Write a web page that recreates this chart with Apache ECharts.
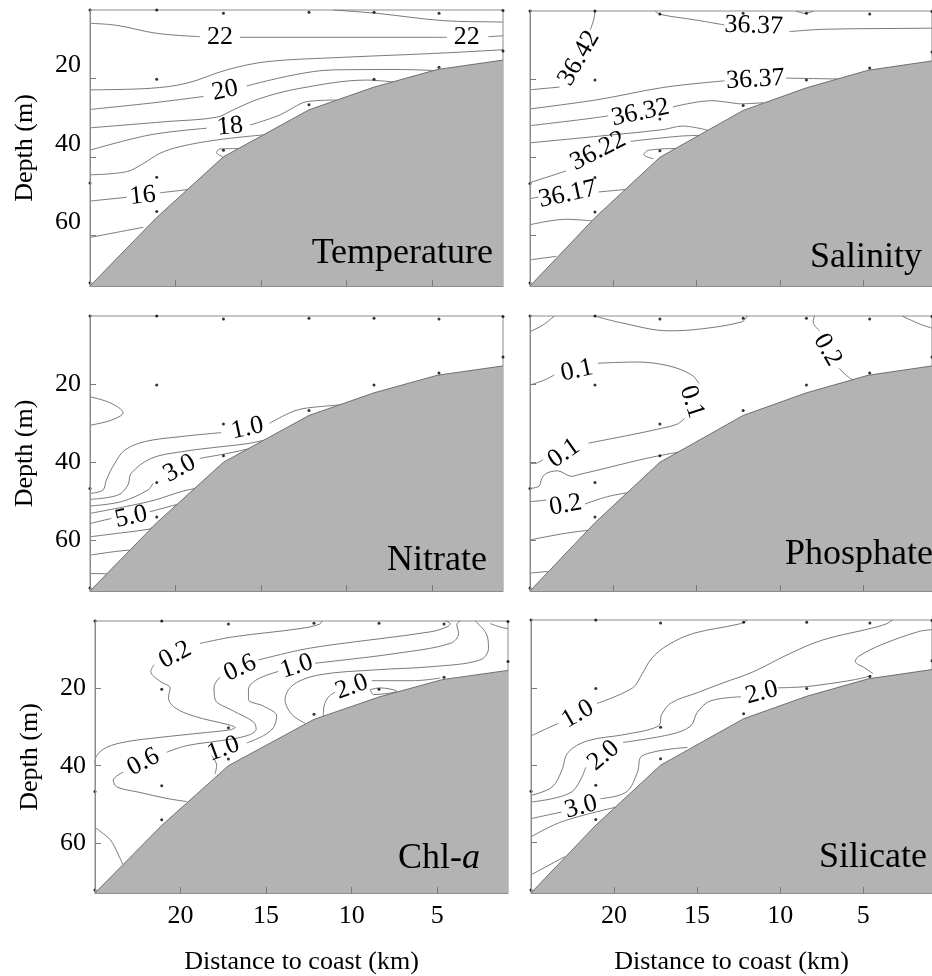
<!DOCTYPE html>
<html>
<head>
<meta charset="utf-8">
<script src="https://cdn.jsdelivr.net/npm/echarts@6/dist/echarts.min.js"></script>
<style>
  html, body { margin: 0; padding: 0; background: #fff; }
  #chart { width: 932px; height: 976px; }
</style>
</head>
<body>
<div id="chart"></div>
<script>
// distance to coast (km), depth (m)
const bottomProfile = [[25, 73], [21.1, 55.5], [17.2, 40], [12.2, 28], [8.4, 22.2], [4.7, 17.7], [0.86, 15.3]];
const stations = [
  [25, 2.5], [25, 46.7], [25, 72.2],
  [21.1, 2.5], [21.1, 20.2], [21.1, 45.2], [21.1, 54],
  [17.2, 3.3], [17.2, 30.2], [17.2, 38.3],
  [12.2, 3.1], [12.2, 26.7],
  [8.4, 3.1], [8.4, 20.2],
  [4.6, 3.3], [4.6, 17.1],
  [0.86, 2.6], [0.86, 13]
];
const depthTicks = [20, 40, 60];
const distTicks = [20, 15, 10, 5];

// contour lines, null = gap left for the label
const tempLines = [
  [[10.78, 2.5], [8.24, 3.35], [4.35, 5.22], [1.03, 5.57], [0.86, 5.6]],
  [[25, 5.9], [23.44, 6.42], [21.1, 8.46], [18.57, 9.31], null, [16.23, 9.48], [10.78, 9.48], [4.15, 9.48], null, [1.71, 9.31], [0.86, 9.1]],
  [[25, 22.9], [21.49, 22.5], [19.35, 21.2], [17.01, 17.8], [14.67, 15.7], [10.78, 14.7], [4.93, 13.6], [1.03, 12.7], [0.86, 12.6]],
  [[25, 27.9], [21.49, 26.3], [18.37, 24.6], null, [15.84, 21.9], [13.11, 19.1], [10.78, 17.8], [6.88, 17.7], [4.74, 18.0]],
  [[25, 32.6], [20.52, 31.0], [17.6, 29.9], [16.62, 28.0], [15.06, 25.1], [12.72, 22.5], [8.83, 20.4], [7.27, 20.9]],
  [[25, 38.3], [21.49, 34.4], [18.18, 32.7], null, [15.65, 31.9], [13.89, 29.3], [13.11, 27.4], [12.33, 25.9], [10.58, 25.5]],
  [[25, 44.6], [22.86, 43.8], [21.88, 41.7], [20.91, 39.1], [19.74, 37.4], [17.6, 35.7], [14.87, 34.4]],
  [[16.23, 37.9], [17.4, 38.0], [17.6, 38.9], [17.24, 40.0]],
  [[25, 51.3], [22.86, 50.35], null, [20.91, 49.2], [19.15, 48.3]],
  [[25, 60.6], [21.88, 58.0]]
];
const tempLabels = [[17.4, 9.5, '22'], [2.98, 9.5, '22'], [17.11, 23.1, '20'], [16.82, 32.3, '18'], [21.92, 50.0, '16']];
const tempLabelRot = [0, 0, 12, 6, 6];

const salLines = [
  [[21.09, 2.5], [21.18, 4.8], [21.38, 7.35], null, [23.22, 22.0], [25, 22.7]],
  [[17.49, 2.5], [17.2, 3.35], [15.06, 4.8], [13.32, 6.08], null, [9.43, 7.78], [7.29, 7.18], [1.54, 6.93], [0.86, 6.9]],
  [[9.04, 2.5], [8.46, 3.1], [7.97, 2.5]],
  [[25, 27.6], [20.89, 25.2], [17.0, 22.1], [13.32, 20.4], null, [9.63, 19.7], [6.32, 19.95]],
  [[25, 31.9], [21.86, 30.3], [20.31, 29.4], null, [16.42, 27.1], [14.09, 25.5], [13.12, 25.9], [12.34, 26.3], [10.98, 26.0]],
  [[25, 36.3], [20.89, 34.6], [17.0, 32.9], [15.84, 32.0], [14.29, 33.1]],
  [[25, 46.5], [22.83, 43.5], null, [18.95, 35.9], [16.04, 34.6], [14.87, 34.4]],
  [[16.13, 37.75], [17.88, 38.2], [18.17, 39.3], [17.59, 40.4]],
  [[25, 50.6], [24.5, 50.2], null, [20.89, 48.9], [19.14, 48.2]],
  [[25, 57.3], [22.83, 55.9], [21.28, 56.3]],
  [[25, 66.3], [23.42, 65.4]]
];
const salLabels = [[22.06, 14.6, '36.42'], [11.57, 6.3, '36.37'], [11.47, 20.1, '36.37'], [18.37, 28.6, '36.32'], [20.9, 38.4, '36.22'], [22.74, 49.5, '36.17']];
const salLabelRot = [60, -2, 3, 12, 27, 12];

const nitLines = [
  [[25, 23.2], [23.8, 24.8], [23.07, 27.3], [23.75, 29.2], [25, 30.5]],
  [[25, 48], [24.24, 47.1], [24.05, 44.6], [23.56, 40.3], [22.97, 36.9], [21.8, 34.7], [19.66, 33.4], [17.33, 32.4], null, [14.5, 30], [13.42, 27.5], [12.72, 26.4], [11.95, 25.9], [10.39, 25.3]],
  [[25, 49.5], [23.36, 48.4], [22.78, 45.8], [22.59, 42.8], [21.42, 39], [19.66, 37.3], [17.33, 36], [15.76, 35.2], [14.4, 33.9]],
  [[25, 51.2], [23.17, 50.1], [21.61, 47.1], [21.32, 45.4], null, [18.59, 39], [16.93, 37.7], [15.57, 36.4]],
  [[25, 53.1], [22.97, 51.4], [21.22, 49.7], [19.66, 47.5], [18.69, 46.6]],
  [[25, 55.7], [23.75, 54.4], null, [21.51, 52.7], [20.25, 51.2], [19.9, 50.8]],
  [[25, 59.1], [23.17, 58.1], [21.61, 57.2], [21.35, 56.7]],
  [[25, 63.8], [23.56, 62.9], [22.7, 62.5]],
  [[25, 68.5], [24.0, 68.6]]
];
const nitLabels = [[15.8, 31.3, '1.0'], [19.76, 41.6, '3.0'], [22.59, 54.0, '5.0']];
const nitLabelRot = [12, 28, 12];

const phoLines = [
  [[25, 6.5], [24.22, 4.8], [23.54, 2.5]],
  [[21.11, 2.5], [19.56, 4.2], [16.65, 6.3], [14.7, 5.8], [12.28, 4.0], [11.95, 2.5]],
  [[7.91, 2.5], [8.0, 4.0], [7.61, 6.3], null, [6.45, 15.9], [5.77, 18.5], [5.38, 19.1]],
  [[2.66, 2.5], [1.57, 4.6], [0.86, 5.6]],
  [[25, 20.2], [24.13, 18.9], [23.54, 17.6], null, [20.92, 14.6], [18.59, 14.3], [16.65, 15.3], [15.29, 17.6], [14.86, 19.8], null,
   [15.71, 28.7], [16.16, 30.2], [17.42, 31.6], [18.98, 33], [21.5, 35.1], null, [24.22, 39.3], [24.71, 40.3], [25, 40.3]],
  [[25, 46.7], [24.45, 46.1], [24.3, 44.2], [24.0, 42.8], [23.35, 42.2], [22.5, 43.6], [22.1, 43.2], [20.92, 42], [18.01, 39], [15.97, 37.3]],
  [[25, 50.1], [24.03, 49.7], null, [21.7, 50.7], [20.34, 48.8], [18.98, 47.7]],
  [[25, 59.9], [22.86, 58.2], [21.41, 57.4]],
  [[25, 68.4], [23.93, 68]]
];
const phoLabels = [[22.18, 16.5, '0.1'], [15.29, 24.5, '0.1'], [22.96, 37.7, '0.1'], [22.86, 51.0, '0.2'], [7.13, 11.2, '0.2']];
const phoLabelRot = [12, -72, 35, 10, -60];

const chlLines = [
  [[11.74, 2.5], [11.88, 3.35], [13.01, 4.47], [16.91, 6.6], [18.86, 8.31], null, [21.55, 13.87], [21.74, 15.58], [21.2, 18.14], [20.61, 19.85],
   [20.71, 22.41], [20.32, 24.98], [19.25, 27.12], [17.11, 29.5], [16.81, 30.1], [17.11, 30.7], [18.86, 31.56], [21.2, 32.67], [23.15, 33.78],
   [24.32, 35.24], [24.9, 37.37], [25, 39.5]],
  [[4.53, 2.5], [4.24, 3.18], [4.43, 4.04], [5.41, 5.32], [11.26, 8.74], [13.01, 10.02], [15.45, 12.59], null, [17.69, 17.03], [18.04, 19.59],
   [17.98, 22.84], [16.91, 25.83], [15.74, 28.65], [15.58, 30.53], [16.13, 32.24], [17.69, 33.53], [19.64, 34.81], [20.81, 36.52], null,
   [23.34, 41.65], [23.93, 43.78], [23.73, 45.49], [22.37, 46.94], [20.81, 48.48], [19.64, 49.3]],
  [[3.65, 2.5], [3.85, 3.35], [3.75, 5.75], [4.24, 8.31], [7.36, 10.88], [11.26, 13.01], [12.13, 13.44], null, [14.28, 15.58], [15.55, 17.71],
   [16.03, 20.28], [16.03, 22.84], [15.16, 24.55], [14.38, 27.12], [14.57, 30.1], [15.16, 32.24], [16.13, 34.12], null, [18.18, 37.4], [17.89, 39.9], [17.98, 42.1]],
  [[2.78, 2.5], [2.13, 5.75], [2.0, 9.59], [2.49, 12.59], [5.21, 14.3], [8.53, 15.15], [11.84, 16.43], [13.4, 19.0], [13.89, 22.84], [13.5, 26.69], [12.72, 29.0]],
  [[11.65, 27.12], [11.61, 24.55], [11.35, 22.16], [10.96, 20.96], null, [8.82, 17.97], [6.38, 17.97], [4.82, 17.29]],
  [[8.92, 20.28], [8.33, 19.85], [7.36, 20.7], [7.94, 21.3], [8.72, 21.56], [8.92, 20.28]],
  [[1.9, 3.18], [1.32, 4.04], [0.86, 4.5]],
  [[25, 56.0], [24.12, 59.17], [23.73, 62.16], [23.38, 65.58]]
];
const chlLabels = [[20.32, 11.3, '0.2'], [16.52, 14.72, '0.6'], [13.21, 14.3, '1.0'], [9.99, 19.59, '2.0'], [22.17, 39.08, '0.6'], [17.5, 35.66, '1.0']];
const chlLabelRot = [28, 25, 18, 20, 28, 20];

const silLines = [
  [[11.99, 2.5], [12.47, 3.53], [15.19, 5.92], [16.74, 8.91], [17.72, 12.33], [18.3, 16.35], [18.88, 20.02], [21.02, 24.04], null, [23.35, 29.17], [25, 32.4]],
  [[3.24, 2.5], [3.63, 3.53], [4.51, 4.64], [7.42, 7.63], [9.36, 11.05], [11.69, 16.0], [13.44, 18.74], [15.0, 21.3], [16.55, 23.87], [17.13, 26.86],
   [17.33, 29.85], [19.27, 32.0], [21.6, 33.7], [22.77, 36.7], [23.15, 41.4], [23.74, 45.66], [25, 47.8]],
  [[4.51, 16.86], [5.48, 17.88], [7.42, 19.17], [8.59, 19.76], [10.14, 20.02], null, [12.37, 22.33], [14.22, 23.44], [15.0, 26.43], [15.38, 29.85],
   [16.55, 31.99], [19.46, 34.12], null, [21.7, 40.53], [22.57, 46.94], [25, 49.5]],
  [[15.58, 35.4], [18.3, 37.54], [18.59, 41.82], [19.27, 46.94], [20.82, 48.65], null, [23.15, 52.07], [25, 53.8]],
  [[25, 58.5], [23.15, 54.6], [19.85, 50.8]],
  [[25, 68.3], [22.96, 63.6]],
  [[0.86, 5.0], [1.67, 5.49], [3.92, 8.91], [5.28, 11.9], [5.48, 13.18], [4.9, 14.9], [4.41, 16.35]]
];
const silLabels = [[22.18, 26.86, '1.0'], [11.11, 21.3, '2.0'], [20.63, 37.5, '2.0'], [21.99, 50.8, '3.0']];
const silLabelRot = [30, 15, 40, 15];

const SERIF = '"Liberation Serif", "Times New Roman", serif';

const panels = [
  { title: 'Temperature', lines: tempLines, labels: tempLabels, rot: tempLabelRot, left: 90, top: 10, height: 276, titleX: 493, titleY: 254 },
  { title: 'Salinity', lines: salLines, labels: salLabels, rot: salLabelRot, left: 530, top: 11, height: 275, titleX: 922, titleY: 258 },
  { title: 'Nitrate', lines: nitLines, labels: nitLabels, rot: nitLabelRot, left: 90, top: 316, height: 275, titleX: 487, titleY: 561 },
  { title: 'Phosphate', lines: phoLines, labels: phoLabels, rot: phoLabelRot, left: 530, top: 316, height: 275, titleX: 933, titleY: 555 },
  { title: '{n|Chl-}{i|a}', lines: chlLines, labels: chlLabels, rot: chlLabelRot, left: 95, top: 621, height: 274, titleX: 480, titleY: 859 },
  { title: 'Silicate', lines: silLines, labels: silLabels, rot: silLabelRot, left: 531, top: 620, height: 274, titleX: 927, titleY: 858 }
];

// split a contour at the nulls so each piece is its own line
function splitLine(pts) {
  const out = [];
  let cur = [];
  pts.forEach((p) => {
    if (p === null) {
      if (cur.length) out.push(cur);
      cur = [];
    } else {
      cur.push(p);
    }
  });
  if (cur.length) out.push(cur);
  return out;
}

const grids = [];
const xAxes = [];
const yAxes = [];
const series = [];
const graphics = [];

panels.forEach((p, i) => {
  const col = i % 2;
  const row = Math.floor(i / 2);
  grids.push({
    left: p.left,
    top: p.top,
    width: col === 0 ? 413 : 414,
    height: p.height,
    show: true,
    borderColor: '#8c8c8c',
    borderWidth: 1,
    backgroundColor: '#fff'
  });
  xAxes.push({
    gridIndex: i,
    type: 'value',
    min: 0.86,
    max: 25,
    inverse: true,
    z: 10,
    axisLine: { show: true, lineStyle: { color: '#8c8c8c', width: 1 } },
    axisTick: { show: true, inside: true, length: 6, customValues: distTicks, lineStyle: { color: '#7a7a7a' } },
    axisLabel: {
      show: row === 2,
      customValues: distTicks,
      margin: 10,
      color: '#000',
      fontFamily: SERIF,
      fontSize: 26
    },
    splitLine: { show: false },
    name: row === 2 ? 'Distance to coast (km)' : '',
    nameLocation: 'middle',
    nameGap: 56,
    nameTextStyle: { color: '#000', fontFamily: SERIF, fontSize: 26 }
  });
  yAxes.push({
    gridIndex: i,
    type: 'value',
    min: 2.5,
    max: 73,
    inverse: true,
    z: 10,
    axisLine: { show: true, lineStyle: { color: '#8c8c8c', width: 1 } },
    axisTick: { show: true, inside: true, length: 6, customValues: depthTicks, lineStyle: { color: '#7a7a7a' } },
    axisLabel: {
      show: col === 0,
      customValues: depthTicks,
      margin: 9,
      color: '#000',
      fontFamily: SERIF,
      fontSize: 26,
      verticalAlign: row === 0 ? 'bottom' : 'middle'
    },
    splitLine: { show: false },
    name: col === 0 ? 'Depth (m)' : '',
    nameLocation: 'middle',
    nameGap: 52,
    nameTextStyle: { color: '#000', fontFamily: SERIF, fontSize: 26 }
  });

  // sea floor
  series.push({
    type: 'line',
    xAxisIndex: i,
    yAxisIndex: i,
    data: bottomProfile,
    symbol: 'none',
    silent: true,
    z: 5,
    lineStyle: { color: '#6f6f6f', width: 1 },
    areaStyle: { color: '#b3b3b3', opacity: 1, origin: 'end' }
  });

  p.lines.forEach((line) => {
    splitLine(line).forEach((seg) => {
      series.push({
        type: 'line',
        xAxisIndex: i,
        yAxisIndex: i,
        data: seg,
        symbol: 'none',
        smooth: 0.35,
        silent: true,
        z: 2,
        lineStyle: { color: '#6a6a6a', width: 0.9 }
      });
    });
  });

  series.push({
    type: 'scatter',
    xAxisIndex: i,
    yAxisIndex: i,
    data: stations,
    symbolSize: 3,
    silent: true,
    z: 6,
    itemStyle: { color: '#000' }
  });

  series.push({
    type: 'scatter',
    xAxisIndex: i,
    yAxisIndex: i,
    symbolSize: 1,
    silent: true,
    z: 7,
    itemStyle: { color: 'rgba(0,0,0,0)' },
    label: {
      show: true,
      position: 'inside',
      formatter: '{b}',
      color: '#000',
      opacity: 1,
      fontFamily: SERIF,
      fontSize: 26
    },
    data: p.labels.map((l, k) => ({
      value: [l[0], l[1]],
      name: l[2],
      label: { rotate: p.rot[k] }
    }))
  });

  graphics.push({
    type: 'text',
    z: 100,
    style: {
      text: p.title,
      x: p.titleX,
      y: p.titleY,
      fill: '#000',
      font: '36px ' + SERIF,
      align: 'right',
      verticalAlign: 'middle',
      rich: {
        n: { fontFamily: SERIF, fontSize: 36, fill: '#000' },
        i: { fontFamily: SERIF, fontSize: 36, fontStyle: 'italic', fill: '#000' }
      }
    }
  });
});

const chart = echarts.init(document.getElementById('chart'));
chart.setOption({
  animation: false,
  backgroundColor: '#fff',
  grid: grids,
  xAxis: xAxes,
  yAxis: yAxes,
  series: series,
  graphic: graphics
});
</script>
</body>
</html>
